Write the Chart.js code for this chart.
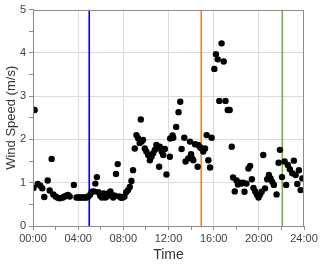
<!DOCTYPE html>
<html>
<head>
<meta charset="utf-8">
<script src="https://cdn.jsdelivr.net/npm/chart.js@4/dist/chart.umd.min.js"></script>
<style>
  html, body { margin: 0; padding: 0; background: #ffffff; }
  #wrap { width: 326px; height: 266px; }
</style>
</head>
<body>
<div id="wrap"><canvas id="c" width="326" height="266"></canvas></div>
<script>
// ---- data (hours since midnight, wind speed m/s) ----
const timeHours = [
  0.05, 0.15, 0.42, 0.65, 0.82, 1.0, 1.3, 1.48, 1.65, 1.8, 2.0, 2.2, 2.35, 2.5, 2.65, 2.8, 2.95, 3.1, 3.25, 3.62,
  3.85, 4.0, 4.15, 4.3, 4.45, 4.6, 4.75, 4.9, 5.05, 5.2, 5.4, 5.52, 5.66, 5.8, 5.95, 6.1, 6.25, 6.4, 6.55, 6.7,
  6.85, 7.0, 7.1, 7.25, 7.35, 7.5, 7.65, 7.8, 7.95, 8.1, 8.25, 8.42, 8.57, 8.72, 8.86, 9.01, 9.16, 9.31, 9.45, 9.55,
  9.62, 9.75, 9.9, 10.04, 10.2, 10.35, 10.49, 10.64, 10.79, 10.93, 11.08, 11.17, 11.23, 11.4, 11.53, 11.68, 11.82, 12.12, 12.15, 12.36,
  12.42, 12.68, 12.89, 13.04, 13.16, 13.4, 13.51, 13.75, 13.9, 14.0, 14.1, 14.2, 14.35, 14.58, 14.64, 14.8, 14.93, 15.08, 15.24, 15.38,
  15.53, 15.68, 15.82, 16.06, 16.2, 16.36, 16.5, 16.7, 16.89, 17.05, 17.25, 17.42, 17.6, 17.72, 17.87, 18.02, 18.15, 18.3, 18.45, 18.6,
  18.73, 18.9, 19.08, 19.23, 19.38, 19.53, 19.68, 19.83, 19.97, 20.1, 20.25, 20.39, 20.55, 20.74, 20.89, 21.04, 21.19, 21.33, 21.57, 21.75,
  21.87, 22.05, 22.28, 22.42, 22.57, 22.75, 22.96, 23.1, 23.26, 23.41, 23.55, 23.7, 23.85
];
const windSpeed = [
  0.88, 2.68, 0.97, 0.93, 0.87, 0.67, 1.05, 0.82, 1.55, 0.73, 0.68, 0.65, 0.64, 0.65, 0.66, 0.68, 0.70, 0.72, 0.68, 0.95,
  0.66, 0.66, 0.66, 0.66, 0.66, 0.66, 0.66, 0.68, 0.72, 0.79, 0.80, 0.98, 1.13, 0.78, 0.70, 0.66, 0.75, 0.66, 0.68, 0.76,
  0.80, 0.72, 0.66, 0.70, 1.20, 1.43, 0.68, 0.65, 0.66, 0.68, 0.78, 0.83, 0.90, 1.04, 1.29, 1.79, 2.10, 2.03, 1.92, 2.46,
  1.95, 1.99, 1.79, 1.72, 1.64, 1.52, 1.60, 1.68, 1.76, 1.87, 1.80, 1.37, 1.83, 1.72, 1.64, 1.78, 1.19, 1.60, 2.02, 2.09,
  2.04, 2.29, 2.63, 2.87, 1.78, 2.04, 1.49, 1.56, 1.95, 1.66, 1.56, 1.52, 1.89, 1.37, 1.87, 1.82, 1.79, 1.72, 1.79, 2.10,
  1.52, 1.35, 2.04, 3.63, 3.97, 3.85, 2.89, 4.22, 3.80, 2.89, 2.68, 2.68, 1.83, 1.12, 0.80, 1.05, 0.96, 1.00, 0.98, 1.00,
  0.79, 0.98, 1.33, 1.39, 1.08, 0.88, 0.80, 0.72, 0.66, 0.72, 0.79, 1.64, 0.87, 1.08, 1.18, 1.10, 1.02, 0.95, 0.73, 1.46,
  1.76, 1.13, 1.49, 0.95, 1.41, 1.31, 1.22, 1.51, 1.18, 0.97, 1.29, 0.83, 1.10
];
// vertical event markers (hours)
const eventTimes = [4.98, 14.9, 22.08];
const eventColors = ['#0000ff', '#f58025', '#76b041'];
// tick labels
const xTickLabels = ['00:00', '04:00', '08:00', '12:00', '16:00', '20:00', '24:00'];
const yTickLabels = ['0', '1', '2', '3', '4', '5'];

const points = timeHours.map((t, i) => ({ x: t, y: windSpeed[i] }));

const datasets = eventTimes.map((t, i) => ({
  type: 'line',
  data: [{ x: t, y: 0 }, { x: t, y: 5 }],
  borderColor: eventColors[i],
  borderWidth: 1.6,
  pointRadius: 0,
  fill: false,
  order: 2
}));
datasets.push({
  type: 'scatter',
  data: points,
  backgroundColor: '#000000',
  borderColor: '#000000',
  pointRadius: 3.2,
  pointBorderWidth: 0,
  order: 1
});

const frame = {
  id: 'frame',
  afterDatasetsDraw(chart) {
    const a = chart.chartArea, ctx = chart.ctx;
    ctx.save();
    ctx.strokeStyle = '#8c8c8c';
    ctx.lineWidth = 1;
    ctx.strokeRect(Math.round(a.left) + 0.5, Math.round(a.top) + 0.5,
                   Math.round(a.right - a.left) - 1, Math.round(a.bottom - a.top));
    ctx.restore();
  }
};

const tickFont = { family: 'Liberation Sans, Arial, sans-serif', size: 11 };

new Chart(document.getElementById('c'), {
  type: 'scatter',
  data: { datasets },
  plugins: [frame],
  options: {
    responsive: false,
    devicePixelRatio: 1,
    animation: false,
    layout: { padding: { top: 9, right: 22, left: 0, bottom: 0 } },
    plugins: { legend: { display: false }, tooltip: { enabled: false } },
    scales: {
      x: {
        type: 'linear',
        min: 0, max: 24,
        afterFit(s) { s.height = 40; },
        ticks: {
          stepSize: 2,
          autoSkip: false,
          maxRotation: 0,
          padding: 2,
          color: '#404040',
          font: tickFont,
          callback: v => (v % 4 === 0 ? xTickLabels[v / 4] : '')
        },
        grid: {
          color: c => (c.tick && c.tick.value % 4 === 0 && c.tick.value !== 0 && c.tick.value !== 24) ? '#dcdcdc' : 'rgba(0,0,0,0)',
          tickColor: '#8c8c8c',
          tickLength: 4,
          lineWidth: 1
        },
        border: { color: '#8c8c8c', width: 1 },
        title: {
          display: true,
          text: 'Time',
          color: '#333333',
          font: { family: 'Liberation Sans, Arial, sans-serif', size: 14 },
          padding: { top: 0, bottom: 2 }
        }
      },
      y: {
        min: 0, max: 5,
        afterFit(s) { s.width = 33; },
        ticks: {
          stepSize: 0.5,
          autoSkip: false,
          padding: 3,
          color: '#404040',
          font: tickFont,
          callback: v => (Number.isInteger(v) ? yTickLabels[v] : '')
        },
        grid: {
          color: c => (c.tick && Number.isInteger(c.tick.value) && c.tick.value !== 0 && c.tick.value !== 5) ? '#dcdcdc' : 'rgba(0,0,0,0)',
          tickColor: '#8c8c8c',
          tickLength: 4,
          lineWidth: 1
        },
        border: { color: '#8c8c8c', width: 1 },
        title: {
          display: true,
          text: 'Wind Speed (m/s)',
          color: '#333333',
          font: { family: 'Liberation Sans, Arial, sans-serif', size: 13 },
          padding: { top: 4, bottom: 2 }
        }
      }
    }
  }
});
</script>
</body>
</html>
